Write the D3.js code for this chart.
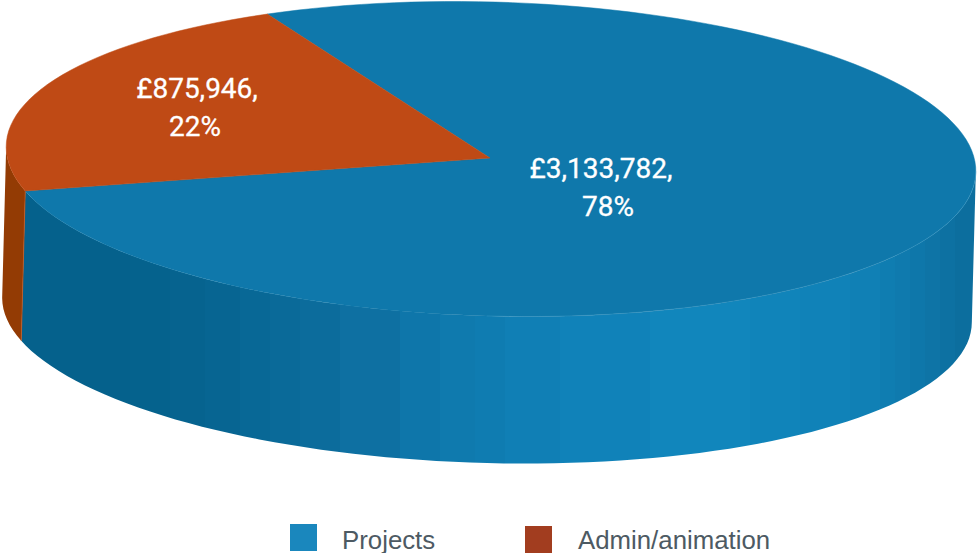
<!DOCTYPE html>
<html><head><meta charset="utf-8">
<script src="https://cdn.jsdelivr.net/npm/d3@7/dist/d3.min.js"></script>
<style>html,body{margin:0;padding:0;background:#fff}svg{display:block}</style>
</head><body><svg id="c" width="978" height="553"></svg>
<script>
const categories = ["Projects", "Admin/animation"];
const values = [3133782, 875946];
const labelLines = [["£3,133,782,", "78%"], ["£875,946,", "22%"]];

const topColors = ["#0f78ab", "#bf4a15"];
const legendColors = ["#1a87bd", "#a23d1f"];
const sideOrange = "#933b04";
const shadeX = [20, 130, 170, 205, 240, 270, 300, 340, 400, 440, 475, 505, 560, 650, 750, 800, 850, 880, 895, 910, 925, 940, 955, 975];
const shadeC = ["#05618c", "#05628d", "#06638f", "#076592", "#086896", "#0a6a99", "#0c6c9c", "#0e70a2", "#0e76aa", "#0f7aae", "#0f7cb1", "#107fb5", "#1082b9", "#1186bc", "#1084ba", "#1082b8", "#1080b5", "#0f7db1", "#0f7aae", "#0e77aa", "#0e74a6", "#0d71a2", "#0c6e9e", "#0b6a98"];

const svg = d3.select("#c");
const rad = d3.scaleLinear().domain([0, 180]).range([0, Math.PI]);
const pie = d3.pie().sort(null).startAngle(rad(-28)).endAngle(rad(332));
const arcs = pie(values);

const X = d3.scaleLinear().domain([-1, 1]).range([6, 976]);
const Y = d3.scaleLinear().domain([-1, 1]).range([2, 316]);
const BX = d3.scaleLinear().domain([-1, 1]).range([2, 972]);
const BY = d3.scaleLinear().domain([-1, 1]).range([157, 463]);
const tilt = rad(1.6), tiltB = rad(1.6);
function proj(a, xs, ys, t) {
  const u = xs(Math.sin(a)) - xs(0), v = ys(-Math.cos(a)) - ys(0);
  return [xs(0) + u * Math.cos(t) - v * Math.sin(t), ys(0) + u * Math.sin(t) + v * Math.cos(t)];
}
const topP = a => proj(a, X, Y, tilt);
const botP = a => proj(a, BX, BY, tiltB);
const line = d3.line();
const shade = d3.scaleLinear().domain(shadeX).range(shadeC).clamp(true);
const step = rad(2);
const angles = (a, b) => { const r = d3.range(a, b, step); r.push(b); return r; };

const grad = svg.append("defs").append("linearGradient").attr("id", "wall")
  .attr("gradientUnits", "userSpaceOnUse").attr("x1", 20).attr("x2", 975).attr("y1", 0).attr("y2", 0);
const stopT = d3.scaleLinear().domain([20, 975]).range([0, 1]);
shadeX.forEach((x, i) => {
  grad.append("stop").attr("offset", stopT(x)).attr("stop-color", shadeC[i]);
  if (i + 1 < shadeX.length) grad.append("stop").attr("offset", stopT(shadeX[i + 1])).attr("stop-color", shadeC[i]);
});

const blue = arcs[0];
const wallEnd = rad(269.5), wallStart = rad(89.5), blueEnd = blue.endAngle;
const wa = angles(wallStart, blueEnd);
svg.append("path")
  .attr("d", line(wa.map(topP).concat(wa.slice().reverse().map(botP))) + "Z")
  .attr("fill", "url(#wall)");
const oa = angles(blueEnd, wallEnd);
svg.append("path")
  .attr("d", line(oa.map(topP).concat(oa.slice().reverse().map(botP))) + "Z")
  .attr("fill", sideOrange);
svg.append("path")
  .attr("d", line([topP(blueEnd), botP(blueEnd)]))
  .attr("stroke", "#c4581f").attr("stroke-width", 0.8).attr("fill", "none");

const tip = [490, 158];
svg.append("g").selectAll("path").data(arcs).join("path")
  .attr("d", d => line([tip].concat(angles(d.startAngle, d.endAngle).map(topP))) + "Z")
  .attr("fill", (d, i) => topColors[i])
  .attr("stroke", (d, i) => topColors[i]).attr("stroke-width", 0.5);
svg.append("path")
  .attr("d", line(angles(wallStart, rad(180)).map(topP)))
  .attr("fill", "none").attr("stroke", "#4fa5cf").attr("stroke-width", 0.7).attr("stroke-opacity", 0.5);

const labelPos = [[[601, 178], [608, 216]], [[197, 98], [195, 136]]];
labelLines.forEach((ls, i) => {
  ls.forEach((s, j) => {
    svg.append("text").text(s).attr("x", labelPos[i][j][0]).attr("y", labelPos[i][j][1])
      .attr("text-anchor", "middle").attr("fill", "#fff")
      .attr("font-family", "Roboto").attr("font-weight", 400)
      .attr("stroke", "#fff").attr("stroke-width", 0.3)
      .attr("font-size", 28);
  });
});

const legendPos = [[290, 524, 342], [525, 526, 578]];
categories.forEach((c, i) => {
  svg.append("rect").attr("x", legendPos[i][0]).attr("y", legendPos[i][1])
    .attr("width", 27).attr("height", 27).attr("fill", legendColors[i]);
  svg.append("text").text(c).attr("x", legendPos[i][2]).attr("y", 549)
    .attr("fill", "#4d5a63").attr("font-family", "Liberation Sans").attr("font-size", 25.8);
});
</script></body></html>
